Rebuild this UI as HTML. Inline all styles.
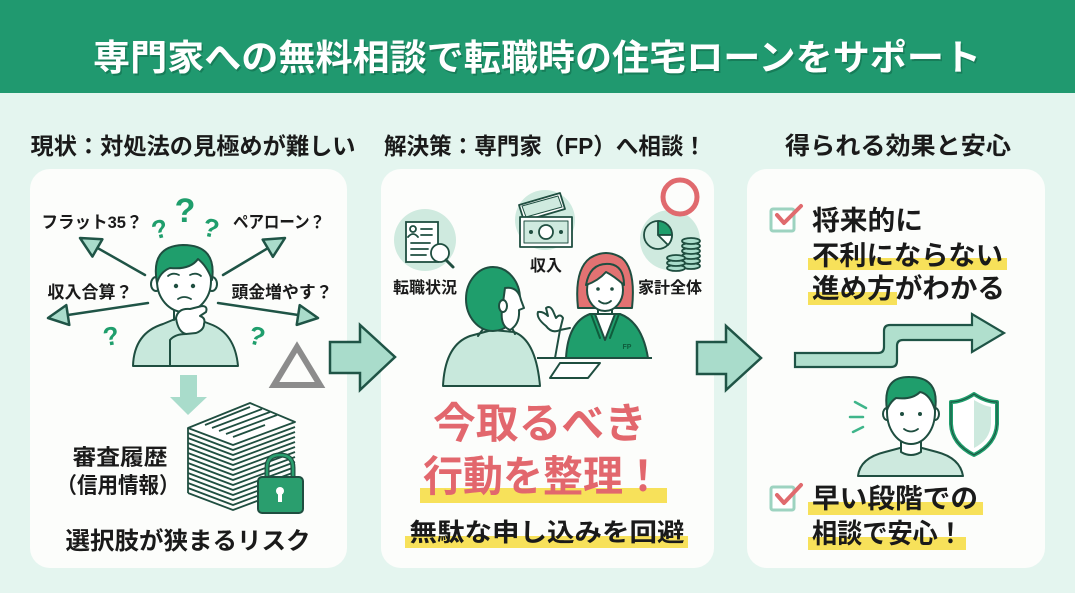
<!DOCTYPE html>
<html lang="ja">
<head>
<meta charset="utf-8">
<style>
html,body{margin:0;padding:0;background:#e4f5ef;}
body{width:1075px;height:593px;overflow:hidden;}
svg{display:block;}
text{font-family:"Liberation Sans","Noto Sans CJK JP",sans-serif;font-weight:bold;}
</style>
</head>
<body>
<svg width="1075" height="593" viewBox="0 0 1075 593" xmlns="http://www.w3.org/2000/svg">
  <!-- background -->
  <rect x="0" y="0" width="1075" height="593" fill="#e4f5ef"/>
  <!-- header -->
  <rect x="0" y="0" width="1075" height="93" fill="#20996f"/>
  <text x="537" y="70" font-size="36" fill="#0d5c40" opacity="0.45" text-anchor="middle" textLength="888" lengthAdjust="spacingAndGlyphs" transform="translate(1.5,2)">専門家への無料相談で転職時の住宅ローンをサポート</text>
  <text x="537" y="70" font-size="36" fill="#ffffff" text-anchor="middle" textLength="888" lengthAdjust="spacingAndGlyphs">専門家への無料相談で転職時の住宅ローンをサポート</text>

  <!-- section headings -->
  <text x="193" y="154" font-size="23" fill="#1a1a1a" text-anchor="middle" textLength="325" lengthAdjust="spacingAndGlyphs">現状：対処法の見極めが難しい</text>
  <text x="545" y="154" font-size="23" fill="#1a1a1a" text-anchor="middle" textLength="322" lengthAdjust="spacingAndGlyphs">解決策：専門家（FP）へ相談！</text>
  <text x="898" y="154" font-size="24" fill="#1a1a1a" text-anchor="middle" textLength="226" lengthAdjust="spacingAndGlyphs">得られる効果と安心</text>

  <!-- panels -->
  <rect x="30" y="169" width="317" height="399" rx="20" fill="#fcfdfb"/>
  <rect x="381" y="169" width="333" height="399" rx="20" fill="#fcfdfb"/>
  <rect x="747" y="169" width="298" height="399" rx="20" fill="#fcfdfb"/>

  <!-- ================= LEFT PANEL ================= -->
  <!-- labels -->
  <text x="92" y="228" font-size="17" fill="#1a1a1a" text-anchor="middle" textLength="101" lengthAdjust="spacingAndGlyphs">フラット35？</text>
  <text x="279" y="228" font-size="17" fill="#1a1a1a" text-anchor="middle" textLength="92" lengthAdjust="spacingAndGlyphs">ペアローン？</text>
  <text x="90" y="298" font-size="17" fill="#1a1a1a" text-anchor="middle" textLength="85" lengthAdjust="spacingAndGlyphs">収入合算？</text>
  <text x="282" y="298" font-size="17" fill="#1a1a1a" text-anchor="middle" textLength="101" lengthAdjust="spacingAndGlyphs">頭金増やす？</text>

  <!-- arrows from person -->
  <g stroke="#1f5446" stroke-width="2.5" stroke-linejoin="round" stroke-linecap="round">
    <line x1="145" y1="275" x2="97.4" y2="247.9"/>
    <polygon points="80,238 102.4,239.2 92.4,256.6" fill="#a9dccb"/>
    <line x1="148" y1="303" x2="67.8" y2="315"/>
    <polygon points="48,318 66.3,305.1 69.3,324.9" fill="#a9dccb"/>
    <line x1="223" y1="275" x2="267.8" y2="248.2"/>
    <polygon points="285,238 272.9,256.8 262.7,239.6" fill="#a9dccb"/>
    <line x1="218" y1="303" x2="298.2" y2="315"/>
    <polygon points="318,318 296.7,324.9 299.7,305.1" fill="#a9dccb"/>
  </g>

  <!-- question marks -->
  <g fill="#1f9e6c" font-family="Liberation Sans, sans-serif" font-weight="bold" text-anchor="middle">
    <text x="185" y="222" font-size="34">?</text>
    <text x="160" y="238" font-size="26" transform="rotate(-15 160 230)">?</text>
    <text x="211" y="237" font-size="26" transform="rotate(12 211 229)">?</text>
    <text x="111" y="345" font-size="26" transform="rotate(-10 111 336)">?</text>
    <text x="257" y="345" font-size="26" transform="rotate(15 257 336)">?</text>
  </g>

  <!-- worried person -->
  <g stroke="#1f4e40" stroke-width="2" stroke-linejoin="round" stroke-linecap="round">
    <path d="M133,366 Q134,333 163,324 L175,319 L197,319 L210,324 Q235,333 238,366 Z" fill="#c8e8dc"/>
    <path d="M174,300 L174,320 M197,300 L197,320" fill="none"/>
    <ellipse cx="156" cy="284" rx="5" ry="7" fill="#fff"/>
    <ellipse cx="212" cy="284" rx="5" ry="7" fill="#fff"/>
    <ellipse cx="184" cy="281" rx="27" ry="31" fill="#fff"/>
    <path d="M157,283 Q150,246 183,245 Q217,245 212,280 Q207,266 198,259 Q190,270 170,268 Q160,272 157,283 Z" fill="#1f9e6c"/>
    <path d="M168,276 Q173,272 179,275 M190,275 Q196,272 201,276" fill="none" stroke-width="1.8"/>
    <path d="M178,299 Q184,295 191,299" fill="none" stroke-width="1.8"/>
    <path d="M176,318 Q178,308 190,309 L202,306 Q208,306 206,312 L200,316 Q206,318 204,324 Q204,330 196,333 L186,334 Q178,332 176,318 Z" fill="#fff"/>
    <path d="M170,366 L170,340 Q175,334 186,334" fill="none"/>
  </g>
  <circle cx="176" cy="286" r="2.2" fill="#1f4e40"/>
  <circle cx="193" cy="286" r="2.2" fill="#1f4e40"/>

  <!-- down arrow -->
  <polygon points="180,375 197,375 197,397 207,397 188,415 170,397 180,397" fill="#a9dccb"/>

  <!-- triangle -->
  <polygon points="297,347 274,385 320,385" fill="none" stroke="#8c8c8c" stroke-width="6"/>

  <!-- document stack -->
  <g stroke="#1f4e40" stroke-width="1.8" fill="none" stroke-linejoin="round">
    <polyline points="188,433 233,450 295,427"/>
    <polyline points="188,438 233,455 295,432"/>
    <polyline points="188,443 233,460 295,437"/>
    <polyline points="188,448 233,465 295,442"/>
    <polyline points="188,453 233,470 295,447"/>
    <polyline points="188,458 233,475 295,452"/>
    <polyline points="188,463 233,480 295,457"/>
    <polyline points="188,468 233,485 295,462"/>
    <polyline points="188,473 233,490 295,467"/>
    <polyline points="188,478 233,495 295,472"/>
    <polyline points="188,483 233,500 295,477"/>
    <polyline points="188,488 233,505 295,482"/>
    <polyline points="188,493 233,510 265,498"/>
    <line x1="188" y1="428" x2="188" y2="493"/>
    <polygon points="188,428 250,403 295,422 233,445" fill="#fff"/>
    <line x1="205" y1="425" x2="250" y2="407"/>
    <line x1="212" y1="428" x2="262" y2="409"/>
    <line x1="219" y1="431" x2="270" y2="412"/>
    <line x1="226" y1="434" x2="277" y2="415"/>
    <line x1="233" y1="437" x2="265" y2="425"/>
  </g>
  <!-- lock -->
  <g stroke="#1f4e40" stroke-width="2">
    <path d="M267,478 L267,468 Q267,455 280,455 Q293,455 293,468 L293,478" fill="none" stroke-width="5" stroke="#1f4e40"/>
    <path d="M267,478 L267,468 Q267,455 280,455 Q293,455 293,468 L293,478" fill="none" stroke-width="2.5" stroke="#2a9e6e"/>
    <rect x="258" y="477" width="45" height="36" rx="4" fill="#2a9e6e"/>
    <circle cx="280" cy="491" r="4" fill="#fff" stroke="none"/>
    <rect x="278" y="493" width="4" height="9" fill="#fff" stroke="none"/>
  </g>

  <text x="120" y="465" font-size="22" fill="#1a1a1a" text-anchor="middle" textLength="95" lengthAdjust="spacingAndGlyphs">審査履歴</text>
  <text x="118" y="493" font-size="22" fill="#1a1a1a" text-anchor="middle" textLength="123" lengthAdjust="spacingAndGlyphs">（信用情報）</text>
  <text x="188" y="549" font-size="24" fill="#1a1a1a" text-anchor="middle" textLength="245" lengthAdjust="spacingAndGlyphs">選択肢が狭まるリスク</text>

  <!-- panel arrows -->
  <path d="M330,342 L360,342 L360,325 L395,357 L360,390 L360,373 L330,373 Z" fill="#a9dccb" stroke="#1f5446" stroke-width="2.5" stroke-linejoin="miter"/>
  <path d="M697,342 L726,342 L726,326 L761,358 L726,390 L726,374 L697,374 Z" fill="#a9dccb" stroke="#1f5446" stroke-width="2.5" stroke-linejoin="miter"/>

  <!-- ================= MIDDLE PANEL ================= -->
  <circle cx="425" cy="240" r="31" fill="#cfeadf"/>
  <circle cx="545" cy="220" r="30" fill="#cfeadf"/>
  <circle cx="670" cy="240" r="30" fill="#cfeadf"/>
  <circle cx="680" cy="197" r="17" fill="none" stroke="#e06a6e" stroke-width="5"/>

  <!-- job status icon -->
  <g stroke="#1f4e40" stroke-width="1.8" fill="none" stroke-linecap="round">
    <rect x="406" y="222" width="32" height="40" fill="#fff"/>
    <circle cx="413" cy="229" r="3"/>
    <path d="M408,237 Q413,231 418,237"/>
    <line x1="421" y1="229" x2="432" y2="229"/>
    <line x1="421" y1="235" x2="432" y2="235"/>
    <line x1="411" y1="243" x2="430" y2="243"/>
    <line x1="411" y1="249" x2="428" y2="249"/>
    <line x1="411" y1="255" x2="426" y2="255"/>
    <circle cx="440" cy="253" r="9" fill="#fff"/>
    <line x1="446" y1="260" x2="453" y2="267" stroke-width="3"/>
  </g>
  <!-- income icon -->
  <g stroke="#1f4e40" stroke-width="1.8" stroke-linejoin="round">
    <polygon points="519,205 560,193 565,209 524,221" fill="#fff"/>
    <polygon points="522,206 558,196 562,207 526,217" fill="#cfeadf" stroke-width="1"/>
    <rect x="520" y="217" width="52" height="30" fill="#fff"/>
    <rect x="524" y="221" width="44" height="22" fill="#cfeadf" stroke-width="1"/>
    <circle cx="546" cy="232" r="7" fill="#fff"/>
    <circle cx="531" cy="232" r="2" fill="#1f4e40" stroke="none"/>
    <circle cx="561" cy="232" r="2" fill="#1f4e40" stroke="none"/>
  </g>
  <!-- household icon -->
  <g stroke="#1f4e40" stroke-width="1.8" stroke-linejoin="round">
    <circle cx="658" cy="235" r="14" fill="#cfeadf"/>
    <path d="M658,235 L658,221 A14,14 0 0 1 672,235 Z" fill="#1f9e6c"/>
    <path d="M658,235 L672,235 A14,14 0 0 1 668,245 Z" fill="#fff"/>
    <g fill="#a9dccb">
      <ellipse cx="691" cy="266" rx="9" ry="3"/>
      <ellipse cx="691" cy="261" rx="9" ry="3"/>
      <ellipse cx="691" cy="256" rx="9" ry="3"/>
      <ellipse cx="691" cy="251" rx="9" ry="3"/>
      <ellipse cx="691" cy="246" rx="9" ry="3"/>
      <ellipse cx="691" cy="241" rx="9" ry="3"/>
      <ellipse cx="676" cy="268" rx="9" ry="3"/>
      <ellipse cx="676" cy="263" rx="9" ry="3"/>
      <ellipse cx="676" cy="258" rx="9" ry="3"/>
    </g>
  </g>
  <text x="425" y="293" font-size="16" fill="#1a1a1a" text-anchor="middle" textLength="64" lengthAdjust="spacingAndGlyphs">転職状況</text>
  <text x="546" y="271" font-size="16" fill="#1a1a1a" text-anchor="middle" textLength="32" lengthAdjust="spacingAndGlyphs">収入</text>
  <text x="670" y="293" font-size="16" fill="#1a1a1a" text-anchor="middle" textLength="64" lengthAdjust="spacingAndGlyphs">家計全体</text>

  <!-- woman FP -->
  <g stroke="#1f4e40" stroke-width="2" stroke-linejoin="round" stroke-linecap="round">
    <path d="M578,308 Q574,270 590,258 Q606,248 622,258 Q636,270 632,308 Z" fill="#e27272"/>
    <path d="M566,358 Q568,322 590,314 L620,314 Q642,322 648,358 Z" fill="#1f9e6c"/>
    <path d="M595,314 L605,340 L615,314 Z" fill="#fff"/>
    <path d="M591,314 L600,338 M619,314 L610,338" fill="none" stroke="#0f5c3c"/>
    <path d="M598,300 L598,314 L612,314 L612,300" fill="#fff"/>
    <ellipse cx="605" cy="290" rx="18" ry="21" fill="#fff"/>
    <path d="M586,285 Q590,262 610,264 Q624,266 624,285 Q614,276 606,272 Q598,281 586,285 Z" fill="#e27272"/>
    <path d="M599,301 Q605,306 611,301" fill="#fff" stroke-width="1.8"/>
    <path d="M555,358 L560,330 L570,328" fill="none"/>
    <path d="M546,326 Q536,318 538,312 Q543,311 548,316 L546,308 Q550,305 553,311 L556,318 Q560,313 563,318 L560,330 Q552,334 546,326 Z" fill="#fff"/>
  </g>
  <circle cx="598" cy="289" r="1.8" fill="#1f4e40"/>
  <circle cx="612" cy="289" r="1.8" fill="#1f4e40"/>
  <text x="627" y="349" font-size="7" fill="#0f5c3c" text-anchor="middle" font-family="Liberation Sans, sans-serif">FP</text>
  <line x1="537" y1="358" x2="652" y2="358" stroke="#1f4e40" stroke-width="2"/>
  <polygon points="550,378 560,363 600,363 588,378" fill="#fff" stroke="#1f4e40" stroke-width="2" stroke-linejoin="round"/>

  <!-- man back view -->
  <g stroke="#1f4e40" stroke-width="2" stroke-linejoin="round" stroke-linecap="round">
    <path d="M443,386 Q445,345 470,336 L492,330 L514,332 Q536,340 540,386 Z" fill="#c8e8dc"/>
    <path d="M478,336 L488,322 L510,324 L515,334" fill="none"/>
    <ellipse cx="493" cy="299" rx="27" ry="32" fill="#1f9e6c"/>
    <path d="M505,288 Q518,286 521,300 L524,308 L519,310 Q520,324 510,330 Q500,326 502,310 Z" fill="#fff"/>
    <ellipse cx="503" cy="306" rx="4" ry="6" fill="#fff"/>
  </g>

  <!-- big red text -->
  <rect x="420" y="488" width="247" height="15" fill="#f7e15a"/>
  <text x="540" y="438" font-size="42" fill="#e2676d" text-anchor="middle" textLength="214" lengthAdjust="spacingAndGlyphs">今取るべき</text>
  <text x="543" y="491" font-size="42" fill="#e2676d" text-anchor="middle" textLength="240" lengthAdjust="spacingAndGlyphs">行動を整理！</text>
  <rect x="405" y="536" width="283" height="12" fill="#f7e15a"/>
  <text x="547" y="541" font-size="25" fill="#1a1a1a" text-anchor="middle" textLength="275" lengthAdjust="spacingAndGlyphs">無駄な申し込みを回避</text>

  <!-- ================= RIGHT PANEL ================= -->
  <!-- checkbox 1 -->
  <rect x="771" y="209" width="23" height="22" rx="2" fill="#fff" stroke="#9dd3c0" stroke-width="3"/>
  <polyline points="777,215 784,223 801,206" fill="none" stroke="#e06a6e" stroke-width="4" stroke-linecap="round" stroke-linejoin="round"/>
  <rect x="808" y="258" width="199" height="12" fill="#f7e15a"/>
  <rect x="808" y="292" width="89" height="13" fill="#f7e15a"/>
  <text x="812" y="230" font-size="27" fill="#1a1a1a" textLength="111" lengthAdjust="spacingAndGlyphs">将来的に</text>
  <text x="812" y="265" font-size="27" fill="#1a1a1a" textLength="191" lengthAdjust="spacingAndGlyphs">不利にならない</text>
  <text x="812" y="298" font-size="27" fill="#1a1a1a" textLength="193" lengthAdjust="spacingAndGlyphs">進め方がわかる</text>

  <!-- stepped arrow -->
  <path d="M795,353 L878,353 Q884,353 884,347 L884,331 Q884,325 890,325 L972,325 L972,314 L1004,333 L972,352 L972,340 L903,340 Q897,340 897,346 L897,361 Q897,367 891,367 L795,367 Z" fill="#b0dfcd" stroke="#1f5446" stroke-width="2.2" stroke-linejoin="miter"/>

  <!-- happy person -->
  <g stroke="#1f4e40" stroke-width="2" stroke-linejoin="round" stroke-linecap="round">
    <path d="M858,476 Q860,458 885,452 L900,448 L922,448 L937,452 Q960,458 963,476 Z" fill="#cde9de"/>
    <path d="M901,440 L901,452 Q911,458 921,452 L921,440" fill="#fff"/>
    <ellipse cx="887" cy="414" rx="4" ry="6" fill="#fff"/>
    <ellipse cx="935" cy="414" rx="4" ry="6" fill="#fff"/>
    <ellipse cx="911" cy="412" rx="24" ry="32" fill="#fff"/>
    <path d="M887,410 Q882,376 910,377 Q940,377 935,410 Q930,394 920,392 Q912,400 896,398 Q890,402 887,410 Z" fill="#1f9e6c"/>
    <path d="M904,429 Q911,434 918,429" fill="none" stroke-width="1.8"/>
  </g>
  <circle cx="902" cy="414" r="2" fill="#1f4e40"/>
  <circle cx="920" cy="414" r="2" fill="#1f4e40"/>
  <g stroke="#3fb58a" stroke-width="2.5" stroke-linecap="round">
    <line x1="855" y1="402" x2="866" y2="408"/>
    <line x1="850" y1="417" x2="863" y2="417"/>
    <line x1="853" y1="432" x2="863" y2="427"/>
  </g>
  <!-- shield -->
  <path d="M974,394 Q962,402 951,402 L951,424 Q952,444 974,455 Q996,444 997,424 L997,402 Q986,402 974,394 Z" fill="#fff" stroke="#1f9e6c" stroke-width="4" stroke-linejoin="round"/>
  <path d="M974,400 Q984,406 991,407 L991,424 Q990,440 974,448 Z" fill="#cde9de"/>
  <path d="M974,394 Q962,402 951,402 L951,424 Q952,444 974,455 Q996,444 997,424 L997,402 Q986,402 974,394 Z" fill="none" stroke="#1f4e40" stroke-width="1"/>

  <!-- checkbox 2 -->
  <rect x="771" y="487" width="23" height="23" rx="2" fill="#fff" stroke="#9dd3c0" stroke-width="3"/>
  <polyline points="777,495 784,503 801,485" fill="none" stroke="#e06a6e" stroke-width="4" stroke-linecap="round" stroke-linejoin="round"/>
  <rect x="808" y="502" width="175" height="13" fill="#f7e15a"/>
  <rect x="808" y="537" width="158" height="13" fill="#f7e15a"/>
  <text x="812" y="508" font-size="27" fill="#1a1a1a" textLength="166" lengthAdjust="spacingAndGlyphs">早い段階での</text>
  <text x="812" y="543" font-size="27" fill="#1a1a1a" textLength="151" lengthAdjust="spacingAndGlyphs">相談で安心！</text>
</svg>
</body>
</html>
